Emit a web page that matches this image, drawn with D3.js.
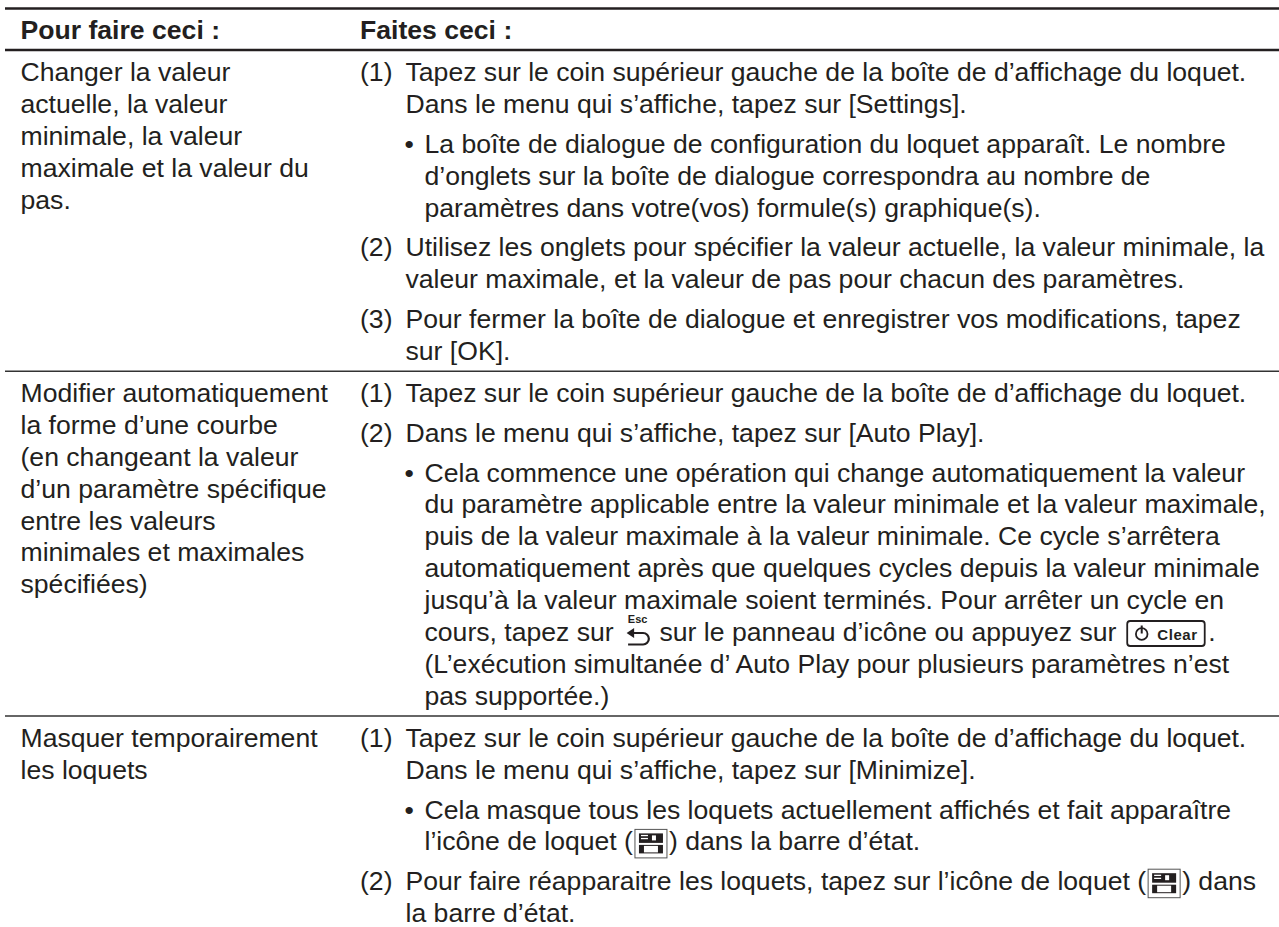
<!DOCTYPE html>
<html>
<head>
<meta charset="utf-8">
<script src="https://cdn.jsdelivr.net/npm/d3@7"></script>
<style>
  html, body { margin: 0; padding: 0; background: #fff; }
  text { font-family: "Liberation Sans", Arial, sans-serif; fill: #231f20; }
</style>
</head>
<body>
<svg id="chart"></svg>
<script>
var headers = ["Pour faire ceci :", "Faites ceci :"];

// colonne de gauche, une liste de lignes par rangee
var actions = [
  ["Changer la valeur", "actuelle, la valeur", "minimale, la valeur", "maximale et la valeur du", "pas."],
  ["Modifier automatiquement", "la forme d\u2019une courbe", "(en changeant la valeur", "d\u2019un param\u00e8tre sp\u00e9cifique", "entre les valeurs", "minimales et maximales", "sp\u00e9cifi\u00e9es)"],
  ["Masquer temporairement", "les loquets"]
];

// colonne de droite : marker, puis lignes du paragraphe
var steps = [
  [
    {mark: "(1)", lines: ["Tapez sur le coin sup\u00e9rieur gauche de la bo\u00eete de d\u2019affichage du loquet.", "Dans le menu qui s\u2019affiche, tapez sur [Settings]."]},
    {mark: "\u2022", lines: ["La bo\u00eete de dialogue de configuration du loquet appara\u00eet. Le nombre", "d\u2019onglets sur la bo\u00eete de dialogue correspondra au nombre de", "param\u00e8tres dans votre(vos) formule(s) graphique(s)."]},
    {mark: "(2)", lines: ["Utilisez les onglets pour sp\u00e9cifier la valeur actuelle, la valeur minimale, la", "valeur maximale, et la valeur de pas pour chacun des param\u00e8tres."]},
    {mark: "(3)", lines: ["Pour fermer la bo\u00eete de dialogue et enregistrer vos modifications, tapez", "sur [OK]."]}
  ],
  [
    {mark: "(1)", lines: ["Tapez sur le coin sup\u00e9rieur gauche de la bo\u00eete de d\u2019affichage du loquet."]},
    {mark: "(2)", lines: ["Dans le menu qui s\u2019affiche, tapez sur [Auto Play]."]},
    {mark: "\u2022", lines: ["Cela commence une op\u00e9ration qui change automatiquement la valeur", "du param\u00e8tre applicable entre la valeur minimale et la valeur maximale,", "puis de la valeur maximale \u00e0 la valeur minimale. Ce cycle s\u2019arr\u00eatera", "automatiquement apr\u00e8s que quelques cycles depuis la valeur minimale", "jusqu\u2019\u00e0 la valeur maximale soient termin\u00e9s. Pour arr\u00eater un cycle en", "cours, tapez sur {esc} sur le panneau d\u2019ic\u00f4ne ou appuyez sur {clear}.", "(L\u2019ex\u00e9cution simultan\u00e9e d\u2019 Auto Play pour plusieurs param\u00e8tres n\u2019est", "pas support\u00e9e.)"]}
  ],
  [
    {mark: "(1)", lines: ["Tapez sur le coin sup\u00e9rieur gauche de la bo\u00eete de d\u2019affichage du loquet.", "Dans le menu qui s\u2019affiche, tapez sur [Minimize]."]},
    {mark: "\u2022", lines: ["Cela masque tous les loquets actuellement affich\u00e9s et fait appara\u00eetre", "l\u2019ic\u00f4ne de loquet ({lock}) dans la barre d\u2019\u00e9tat."]},
    {mark: "(2)", lines: ["Pour faire r\u00e9apparaitre les loquets, tapez sur l\u2019ic\u00f4ne de loquet ({lock}) dans", "la barre d\u2019\u00e9tat."]}
  ]
];

var width = 1279, height = 927;
var fontSize = 26.6;
var lineH = 31.9, paraStep = 39.8, rowStep = 42;
var firstBase = 81, headerBase = 38.5;
var xLeft = 20.5, xMark = 360, xBody = 405.5, xBullet = 404.5, xBulletBody = 424.5;
var ink = "#231f20";

var svg = d3.select("#chart")
    .attr("width", width)
    .attr("height", height)
    .style("display", "block");

// regles horizontales
function rule(y, w, c) {
  svg.append("line")
    .attr("x1", 5).attr("x2", 1279)
    .attr("y1", y).attr("y2", y)
    .attr("stroke", c)
    .attr("stroke-width", w);
}

svg.selectAll(".head")
  .data(headers)
  .enter().append("text")
    .attr("class", "head")
    .attr("x", function(d, i) { return i ? xMark : xLeft; })
    .attr("y", headerBase)
    .attr("font-size", fontSize)
    .attr("font-weight", "bold")
    .text(function(d) { return d; });

rule(8.5, 2.6, ink);
rule(50, 2.6, ink);

// icones en ligne
var icons = {
  esc: {w: 31, draw: function(g, x, y) {
    g.append("text").attr("x", x + 16.5).attr("y", y - 18.5).attr("text-anchor", "middle")
      .attr("font-size", 11).attr("font-weight", "bold").text("Esc");
    g.append("path")
      .attr("d", "M" + (x + 8) + "," + (y - 8) + "h14a5,5 0 0 1 0,11.5h-15")
      .attr("fill", "none").attr("stroke", ink).attr("stroke-width", 2.2);
    g.append("path")
      .attr("d", "M" + (x + 5.5) + "," + (y - 8) + "l7.5,-5v10z")
      .attr("fill", ink);
  }},
  clear: {w: 84.5, draw: function(g, x, y) {
    g.append("rect").attr("x", x + 3.5).attr("y", y - 20).attr("width", 77.5).attr("height", 25).attr("rx", 3)
      .attr("fill", "none").attr("stroke", ink).attr("stroke-width", 1.8);
    g.append("circle").attr("cx", x + 18).attr("cy", y - 7).attr("r", 5.8)
      .attr("fill", "none").attr("stroke", ink).attr("stroke-width", 1.8);
    g.append("rect").attr("x", x + 17).attr("y", y - 15.5).attr("width", 2).attr("height", 8).attr("fill", ink);
    g.append("text").attr("x", x + 33.5).attr("y", y - 0.7).attr("font-size", 15)
      .attr("letter-spacing", 0.6).attr("font-weight", "bold").text("Clear");
  }},
  lock: {w: 36, draw: function(g, x, y) {
    g.append("rect").attr("x", x + 2).attr("y", y - 21).attr("width", 32).attr("height", 28.5)
      .attr("fill", "none").attr("stroke", "#555").attr("stroke-width", 1);
    g.append("rect").attr("x", x + 6).attr("y", y - 17).attr("width", 24).attr("height", 9.5).attr("fill", ink);
    g.append("rect").attr("x", x + 6).attr("y", y - 5.5).attr("width", 24).attr("height", 8.5).attr("fill", ink);
    g.append("rect").attr("x", x + 11).attr("y", y - 4.5).attr("width", 14).attr("height", 6.5).attr("fill", "#fff");
    g.append("rect").attr("x", x + 8).attr("y", y - 15.5).attr("width", 7).attr("height", 1.3).attr("fill", "#fff");
    g.append("rect").attr("x", x + 8).attr("y", y - 12.5).attr("width", 7).attr("height", 1.3).attr("fill", "#fff");
    g.append("rect").attr("x", x + 19).attr("y", y - 15).attr("width", 4).attr("height", 5).attr("fill", "#fff");
  }}
};

// ecrit une ligne et remplace les {jetons} par leur icone
function writeLine(g, str, x, y) {
  str.split(/(\{\w+\})/).forEach(function(part) {
    if (!part) return;
    var m = part.match(/^\{(\w+)\}$/);
    if (m) {
      icons[m[1]].draw(g, x, y);
      x += icons[m[1]].w;
    } else {
      var t = g.append("text")
        .attr("x", x).attr("y", y)
        .attr("font-size", fontSize)
        .style("white-space", "pre")
        .text(part);
      x += t.node().getComputedTextLength();
    }
  });
}

var y = firstBase;
steps.forEach(function(row, r) {
  var g = svg.append("g").attr("class", "row");
  actions[r].forEach(function(line, i) {
    writeLine(g, line, xLeft, y + i * lineH);
  });
  row.forEach(function(p, k) {
    var bullet = p.mark === "\u2022";
    writeLine(g, p.mark, bullet ? xBullet : xMark, y);
    p.lines.forEach(function(line, i) {
      writeLine(g, line, bullet ? xBulletBody : xBody, y);
      if (i < p.lines.length - 1) y += lineH;
    });
    if (k < row.length - 1) y += paraStep;
  });
  if (r < steps.length - 1) {
    rule(y + 11.3, 1.5, "#333");
    y += rowStep;
  }
});
</script>
</body>
</html>
